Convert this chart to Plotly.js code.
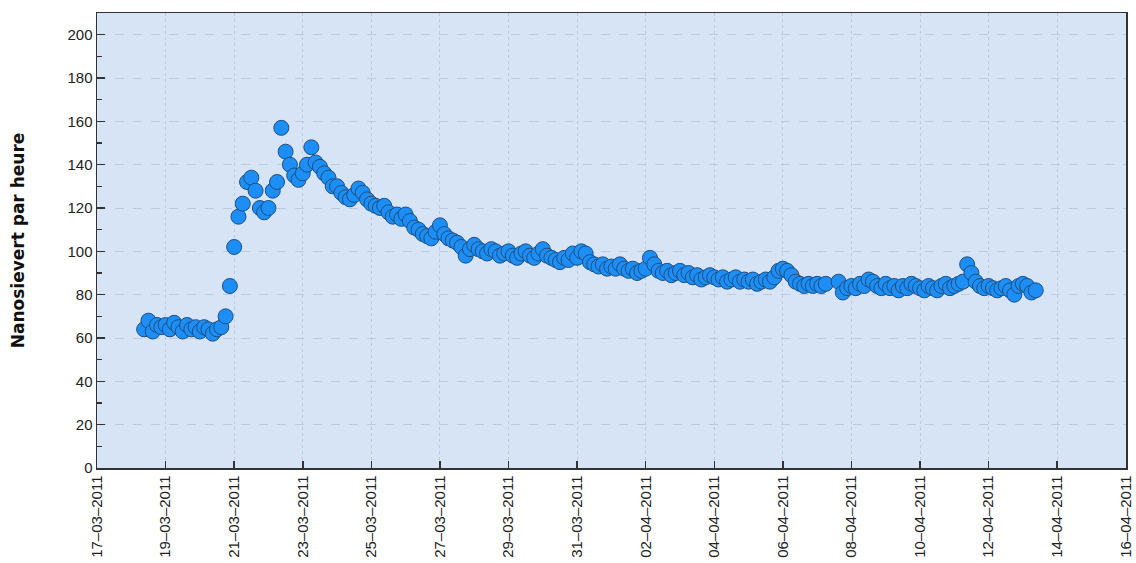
<!DOCTYPE html>
<html>
<head>
<meta charset="utf-8">
<script src="https://cdn.plot.ly/plotly-3.0.1.min.js"></script>
<style>html,body{margin:0;padding:0;background:#fff;}#chart{width:1136px;height:563px;}</style>
</head>
<body>
<div id="chart"></div>
<script>
// Sampling hours within each day
const hours = ['00', '03', '06', '09', '12', '15', '18', '21'];
const days = [
  '2011-03-18', '2011-03-19', '2011-03-20', '2011-03-21', '2011-03-22', '2011-03-23',
  '2011-03-24', '2011-03-25', '2011-03-26', '2011-03-27', '2011-03-28', '2011-03-29',
  '2011-03-30', '2011-03-31', '2011-04-01', '2011-04-02', '2011-04-03', '2011-04-04',
  '2011-04-05', '2011-04-06', '2011-04-07', '2011-04-08', '2011-04-09', '2011-04-10',
  '2011-04-11', '2011-04-12', '2011-04-13'
];
// Nanosievert per hour, one row per day (values at the hours above)
const doseRate = [
  [null, null, null, 64, 68, 63, 66, 65],
  [66, 64, 67, 65, 63, 66, 64, 65],
  [63, 65, 64, 62, 64, 65, 70, 84],
  [102, 116, 122, 132, 134, 128, 120, 118],
  [120, 128, 132, 157, 146, 140, 135, 133],
  [136, 140, 148, 141, 139, 136, 134, 130],
  [130, 127, 125, 124, 126, 129, 127, 124],
  [122, 121, 120, 121, 118, 116, 117, 115],
  [117, 114, 111, 110, 108, 107, 106, 109],
  [112, 108, 106, 105, 104, 102, 98, 101],
  [103, 101, 100, 99, 101, 100, 98, 99],
  [100, 98, 97, 99, 100, 98, 97, 99],
  [101, 98, 97, 96, 95, 97, 96, 99],
  [97, 100, 99, 95, 94, 93, 94, 92],
  [93, 92, 94, 92, 91, 92, 90, 91],
  [92, 97, 94, 91, 90, 91, 89, 90],
  [91, 89, 90, 88, 89, 87, 88, 89],
  [88, 87, 88, 86, 87, 88, 86, 87],
  [86, 87, 85, 86, 87, 86, 88, 91],
  [92, 91, 89, 86, 85, 84, 85, 84],
  [85, 84, 85, null, null, 86, 81, 83],
  [84, 83, 85, 84, 87, 86, 84, 83],
  [85, 83, 84, 82, 84, 83, 85, 84],
  [83, 82, 84, 83, 82, 84, 85, 83],
  [84, 85, 86, 94, 90, 86, 84, 83],
  [84, 83, 82, 83, 84, 82, 80, 84],
  [85, 84, 81, 82, null, null, null, null]
];
const yTitle = 'Nanosievert par heure';

const xs = [], ys = [];
days.forEach((d, i) => {
  hours.forEach((h, j) => {
    const v = doseRate[i][j];
    if (v !== null) { xs.push(d + ' ' + h + ':00'); ys.push(v); }
  });
});

const sans = 'Liberation Sans, Arial, sans-serif';
const verd = 'DejaVu Sans, Verdana, sans-serif';
const trace = {
  x: xs, y: ys, type: 'scatter', mode: 'markers',
  marker: { size: 15, color: 'rgb(28,142,245)', line: { color: '#1d4f80', width: 1 } },
  hoverinfo: 'x+y'
};
const layout = {
  width: 1136, height: 563,
  margin: { l: 97, r: 10, t: 13, b: 95 },
  paper_bgcolor: '#ffffff', plot_bgcolor: '#d7e4f6',
  showlegend: false,
  font: { family: sans, size: 14, color: '#222' },
  xaxis: {
    type: 'date', range: ['2011-03-17', '2011-04-16 00:10'],
    tick0: '2011-03-17', dtick: 172800000, tickformat: '%d–%m–%Y',
    tickangle: -90, ticks: 'inside', ticklen: 7, tickcolor: '#333', tickwidth: 1.5,
    ticklabeloverflow: 'allow',
    showline: true, linecolor: '#333', linewidth: 1.5, mirror: true,
    showgrid: true, gridcolor: '#bccadb', griddash: 'dot', gridwidth: 1,
    zeroline: false, tickfont: { family: sans, size: 15, color: '#222' }
  },
  yaxis: {
    range: [0, 210], dtick: 20, tick0: 0,
    ticks: 'inside', ticklen: 8, tickcolor: '#333', tickwidth: 1.5,
    minor: { dtick: 10, ticks: 'inside', ticklen: 5, tickcolor: '#333', showgrid: false },
    showline: true, linecolor: '#333', linewidth: 1.5, mirror: true,
    showgrid: true, gridcolor: '#bccadb', griddash: 'dash', gridwidth: 1,
    zeroline: false, tickfont: { family: sans, size: 15, color: '#222' },
    title: { text: yTitle, standoff: 38, font: { family: verd, size: 17, color: '#111', weight: 'bold' } }
  }
};
Plotly.newPlot('chart', [trace], layout, { displayModeBar: false, staticPlot: true });
</script>
</body>
</html>
